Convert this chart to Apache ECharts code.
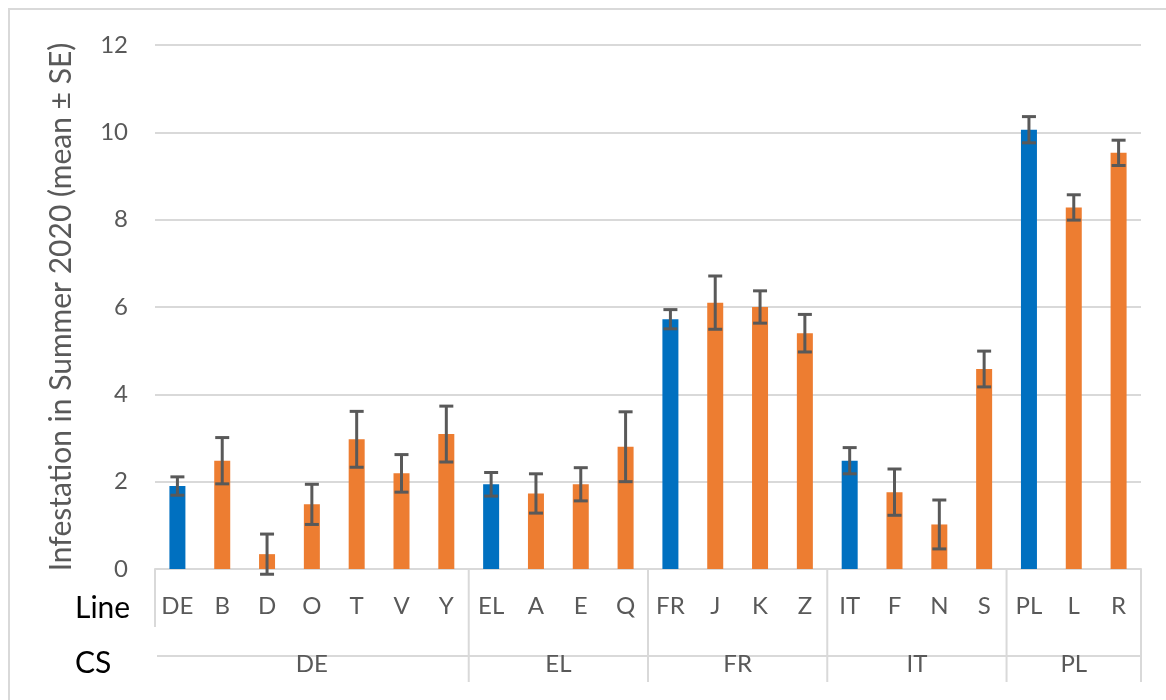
<!DOCTYPE html>
<html>
<head>
<meta charset="utf-8">
<script src="https://cdn.jsdelivr.net/npm/echarts@6/dist/echarts.min.js"></script>
<style>
  html, body { margin: 0; padding: 0; background: #fff; }
  #chart { width: 1166px; height: 700px; }
</style>
</head>
<body>
<div id="chart"></div>
<script>
// Plant lines, their country sample (CS) and summer 2020 infestation (mean and SE)
const lines = ['DE', 'B', 'D', 'O', 'T', 'V', 'Y', 'EL', 'A', 'E', 'Q', 'FR', 'J', 'K', 'Z', 'IT', 'F', 'N', 'S', 'PL', 'L', 'R'];
const cs = ['DE', 'DE', 'DE', 'DE', 'DE', 'DE', 'DE', 'EL', 'EL', 'EL', 'EL', 'FR', 'FR', 'FR', 'FR', 'IT', 'IT', 'IT', 'IT', 'PL', 'PL', 'PL'];
const means = [1.90, 2.48, 0.34, 1.48, 2.97, 2.19, 3.09, 1.94, 1.73, 1.94, 2.80, 5.72, 6.10, 6.00, 5.40, 2.48, 1.76, 1.02, 4.58, 10.06, 8.28, 9.53];
const se = [0.21, 0.53, 0.46, 0.46, 0.64, 0.43, 0.64, 0.27, 0.45, 0.38, 0.80, 0.22, 0.61, 0.37, 0.43, 0.30, 0.53, 0.56, 0.41, 0.30, 0.29, 0.29];
const yTicks = { min: 0, max: 12, interval: 2 };
const yTitle = 'Infestation in Summer 2020 (mean ± SE)';

const FONT = 'Lato';
const GREY = '#595959';
const RULE = '#d9d9d9';
const BLUE = '#0070C0';
const ORANGE = '#ED7D31';

const chart = echarts.init(document.getElementById('chart'), null, { renderer: 'canvas' });

const option = {
  animation: false,
  backgroundColor: '#fff',
  grid: { left: 155, right: 25, top: 45, bottom: 131, containLabel: false },
  xAxis: {
    type: 'category',
    data: lines,
    boundaryGap: true,
    axisLine: { show: true, lineStyle: { color: RULE, width: 2 } },
    axisTick: { show: false },
    axisLabel: { color: GREY, fontFamily: FONT, fontSize: 24, margin: 25, interval: 0 }
  },
  yAxis: {
    type: 'value',
    min: yTicks.min, max: yTicks.max, interval: yTicks.interval,
    name: yTitle,
    nameLocation: 'middle',
    nameRotate: 90,
    nameGap: 79,
    nameTextStyle: { color: GREY, fontFamily: FONT, fontSize: 30 },
    axisLine: { show: false },
    axisTick: { show: false },
    axisLabel: { color: GREY, fontFamily: FONT, fontSize: 24, margin: 27 },
    splitLine: { lineStyle: { color: RULE, width: 2 } }
  },
  series: [
    {
      type: 'bar',
      data: means.map((v, i) => ({
        value: v,
        itemStyle: { color: lines[i] === cs[i] ? BLUE : ORANGE }
      })),
      barWidth: 16,
      z: 2
    },
    {
      type: 'custom',
      z: 5,
      data: means.map((v, i) => [i, v - se[i], v + se[i]]),
      renderItem: function (params, api) {
        const x = api.value(0);
        const lo = api.coord([x, api.value(1)]);
        const hi = api.coord([x, api.value(2)]);
        const half = 7;
        const style = { stroke: GREY, lineWidth: 3 };
        return {
          type: 'group',
          children: [
            { type: 'line', shape: { x1: lo[0], y1: lo[1], x2: hi[0], y2: hi[1] }, style: style },
            { type: 'line', shape: { x1: hi[0] - half, y1: hi[1], x2: hi[0] + half, y2: hi[1] }, style: style },
            { type: 'line', shape: { x1: lo[0] - half, y1: lo[1], x2: lo[0] + half, y2: lo[1] }, style: style }
          ]
        };
      }
    }
  ]
};

chart.setOption(option);

// Multi-level category axis: group separators, CS labels and row headers
function drawAxisFrame() {
  const xs = lines.map((_, i) => chart.convertToPixel({ xAxisIndex: 0 }, i));
  const step = xs[1] - xs[0];
  const y0 = chart.convertToPixel({ yAxisIndex: 0 }, 0);
  const left = xs[0] - step / 2;
  const right = xs[xs.length - 1] + step / 2;
  const els = [];
  const lineStyle = { stroke: RULE, lineWidth: 2 };

  // outer frame (only its top and left edges fall inside the page)
  els.push({ type: 'rect', shape: { x: 9, y: 9, width: 1300, height: 900 },
    style: { fill: null, stroke: RULE, lineWidth: 2 }, silent: true });

  els.push({ type: 'line', shape: { x1: left, y1: y0, x2: left, y2: y0 + 58 }, style: lineStyle });
  els.push({ type: 'line', shape: { x1: right, y1: y0, x2: right, y2: y0 + 113 }, style: lineStyle });
  els.push({ type: 'line', shape: { x1: left + 2, y1: y0 + 87, x2: right, y2: y0 + 87 }, style: lineStyle });

  // group spans
  let start = 0;
  for (let i = 1; i <= cs.length; i++) {
    if (i === cs.length || cs[i] !== cs[start]) {
      const gx0 = xs[start] - step / 2;
      const gx1 = xs[i - 1] + step / 2;
      if (i < cs.length) {
        els.push({ type: 'line', shape: { x1: gx1, y1: y0, x2: gx1, y2: y0 + 113 }, style: lineStyle });
      }
      els.push({ type: 'text', x: (gx0 + gx1) / 2, y: y0 + 95,
        style: { text: cs[start], fill: GREY, font: '24px ' + FONT, align: 'center', verticalAlign: 'middle' } });
      start = i;
    }
  }

  els.push({ type: 'text', x: 75, y: y0 + 39,
    style: { text: 'Line', fill: '#000', font: '30px ' + FONT, align: 'left', verticalAlign: 'middle' } });
  els.push({ type: 'text', x: 75, y: y0 + 94,
    style: { text: 'CS', fill: '#000', font: '30px ' + FONT, align: 'left', verticalAlign: 'middle' } });

  chart.setOption({ graphic: { elements: els } });
}
drawAxisFrame();
</script>
</body>
</html>
